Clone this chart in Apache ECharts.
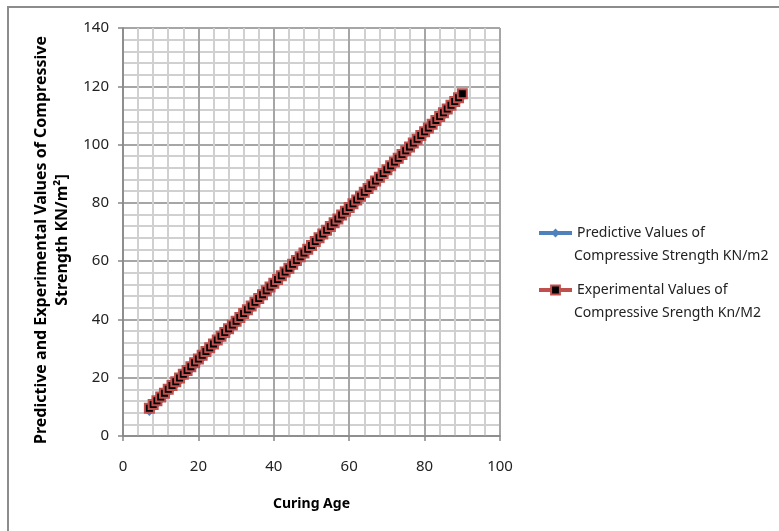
<!DOCTYPE html>
<html>
<head>
<meta charset="utf-8">
<script src="https://cdn.jsdelivr.net/npm/echarts@6/dist/echarts.min.js"></script>
<style>
  html, body { margin: 0; padding: 0; background: #fff; }
  #chart { width: 779px; height: 531px; }
</style>
</head>
<body>
<div id="chart"></div>
<script>
// 养护龄期（天）
const curingAge = [
    7, 8, 9, 10, 11, 12, 13, 14, 15, 16, 17, 18, 19, 20,
    21, 22, 23, 24, 25, 26, 27, 28, 29, 30, 31, 32, 33, 34,
    35, 36, 37, 38, 39, 40, 41, 42, 43, 44, 45, 46, 47, 48,
    49, 50, 51, 52, 53, 54, 55, 56, 57, 58, 59, 60, 61, 62,
    63, 64, 65, 66, 67, 68, 69, 70, 71, 72, 73, 74, 75, 76,
    77, 78, 79, 80, 81, 82, 83, 84, 85, 86, 87, 88, 89, 90
];

// 预测值
const predictiveValues = [
    8.6, 9.9, 11.2, 12.5, 13.8, 15.1, 16.4, 17.7, 19.0, 20.3, 21.6, 22.9, 24.2, 25.5,
    26.8, 28.1, 29.4, 30.7, 32.0, 33.3, 34.6, 35.9, 37.2, 38.5, 39.8, 41.1, 42.4, 43.7,
    45.0, 46.3, 47.6, 48.9, 50.2, 51.5, 52.8, 54.1, 55.4, 56.7, 58.0, 59.3, 60.6, 61.9,
    63.2, 64.5, 65.8, 67.1, 68.4, 69.7, 71.0, 72.3, 73.6, 74.9, 76.2, 77.5, 78.8, 80.1,
    81.4, 82.7, 84.0, 85.3, 86.6, 87.9, 89.2, 90.5, 91.8, 93.1, 94.4, 95.7, 97.0, 98.3,
    99.6, 100.9, 102.2, 103.5, 104.8, 106.1, 107.4, 108.7, 110.0, 111.3, 112.6, 113.9, 115.2, 116.5
];

// 实验值
const experimentalValues = [
    9.5, 10.8, 12.1, 13.4, 14.7, 16.0, 17.3, 18.6, 19.9, 21.2, 22.5, 23.8, 25.1, 26.4,
    27.7, 29.0, 30.3, 31.6, 32.9, 34.2, 35.5, 36.8, 38.1, 39.4, 40.7, 42.0, 43.3, 44.6,
    45.9, 47.2, 48.5, 49.8, 51.1, 52.4, 53.7, 55.0, 56.3, 57.6, 58.9, 60.2, 61.5, 62.8,
    64.1, 65.4, 66.7, 68.0, 69.3, 70.6, 71.9, 73.2, 74.5, 75.8, 77.1, 78.4, 79.7, 81.0,
    82.3, 83.6, 84.9, 86.2, 87.5, 88.8, 90.1, 91.4, 92.7, 94.0, 95.3, 96.6, 97.9, 99.2,
    100.5, 101.8, 103.1, 104.4, 105.7, 107.0, 108.3, 109.6, 110.9, 112.2, 113.5, 114.8, 116.1, 117.4
];

// 图例文字（第一行作为图例名，第二行单独绘制）
const seriesNames = ['Predictive Values of', 'Experimental Values of'];
const legendSecondLines = ['Compressive Strength KN/m2', 'Compressive Srength Kn/M2'];

const FONT = '"Noto Sans", sans-serif';

const chart = echarts.init(document.getElementById('chart'));

const axisCommon = {
    type: 'value',
    axisLine: { show: true, lineStyle: { color: '#868686', width: 1.5 } },
    axisTick: { show: true, length: 5, inside: false, lineStyle: { color: '#868686', width: 1.5 } },
    axisLabel: { color: '#222', fontFamily: FONT, fontSize: 15 },
    splitLine: { show: true, lineStyle: { color: '#a6a6a6', width: 2 } },
    minorTick: { show: false, splitNumber: 5 },
    minorSplitLine: { show: true, lineStyle: { color: '#d0d0d0', width: 2 } }
};

const legendCommon = {
    padding: 0,
    itemWidth: 33,
    itemHeight: 11,
    lineStyle: { width: 4 },
    textStyle: { fontFamily: FONT, fontSize: 14, color: '#222' }
};

const option = {
    animation: false,
    backgroundColor: '#fff',
    graphic: [
        {
            type: 'rect',
            shape: { x: 8, y: 7, width: 900, height: 700 },
            style: { fill: 'none', stroke: '#8c8c8c', lineWidth: 2 },
            silent: true
        },
        {
            type: 'text',
            x: 574, y: 256,
            style: { text: legendSecondLines[0], fill: '#222', font: '14px ' + FONT, verticalAlign: 'middle' },
            silent: true
        },
        {
            type: 'text',
            x: 574, y: 313,
            style: { text: legendSecondLines[1], fill: '#222', font: '14px ' + FONT, verticalAlign: 'middle' },
            silent: true
        }
    ],
    grid: { left: 123, top: 28, width: 377, height: 408 },
    legend: [
        Object.assign({ data: [seriesNames[0]], left: 537, top: 226, itemGap: 9 }, legendCommon),
        Object.assign({ data: [seriesNames[1]], left: 537, top: 283, itemGap: 1 }, legendCommon)
    ],
    xAxis: Object.assign({}, axisCommon, {
        min: 0, max: 100, interval: 20,
        name: 'Curing Age',
        nameLocation: 'middle',
        nameGap: 61,
        nameTextStyle: { fontFamily: FONT, fontSize: 14, fontWeight: 'bold', color: '#000' },
        axisLabel: Object.assign({}, axisCommon.axisLabel, { margin: 23 })
    }),
    yAxis: Object.assign({}, axisCommon, {
        min: 0, max: 140, interval: 20,
        name: 'Predictive and Experimental Values of Compressive\nStrength KN/m\u00B2]',
        nameLocation: 'middle',
        nameRotate: 90,
        nameGap: 50,
        nameTextStyle: {
            fontFamily: FONT, fontSize: 16, fontWeight: 'bold', color: '#000',
            lineHeight: 21, padding: [0, 16, 0, 0]
        },
        axisLabel: Object.assign({}, axisCommon.axisLabel, { margin: 14 })
    }),
    series: [
        {
            name: seriesNames[0],
            type: 'line',
            data: curingAge.map((x, i) => [x, predictiveValues[i]]),
            symbol: 'diamond',
            symbolSize: 10,
            showAllSymbol: true,
            lineStyle: { color: '#4f81bd', width: 3 },
            itemStyle: { color: '#4f81bd' }
        },
        {
            name: seriesNames[1],
            type: 'line',
            data: curingAge.map((x, i) => [x, experimentalValues[i]]),
            symbol: 'rect',
            symbolSize: 9,
            showAllSymbol: true,
            lineStyle: { color: '#c0504d', width: 3 },
            itemStyle: { color: '#000', borderColor: '#c0504d', borderWidth: 2 }
        }
    ]
};

chart.setOption(option);
</script>
</body>
</html>
